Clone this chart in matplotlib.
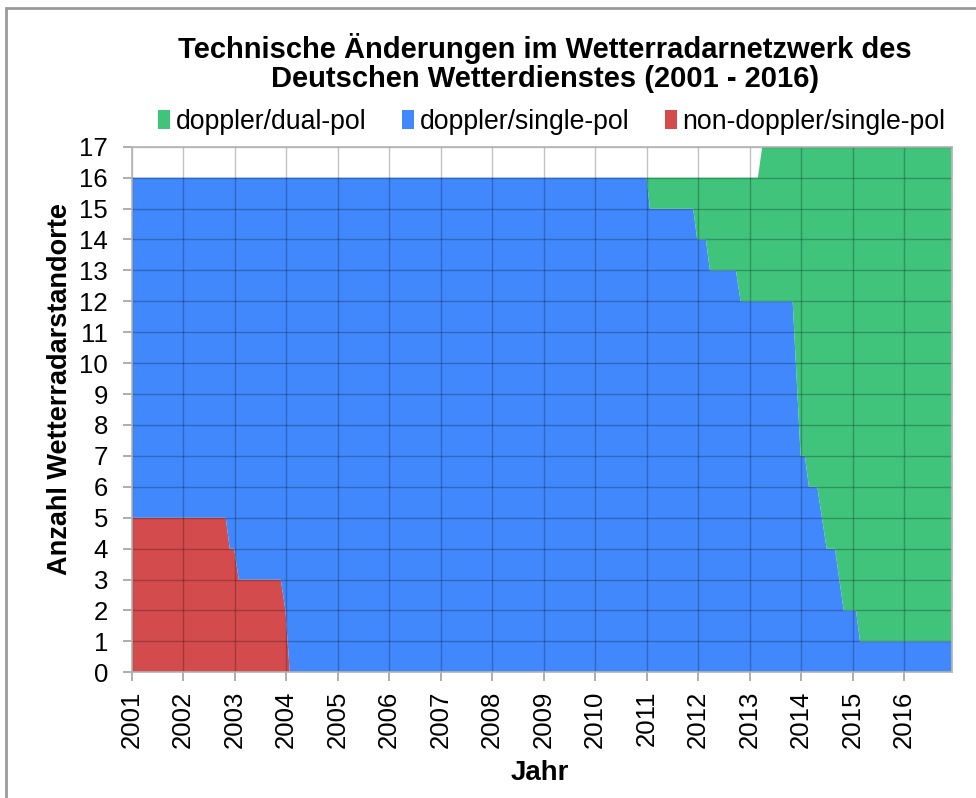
import matplotlib
matplotlib.use("Agg")
import matplotlib.pyplot as plt
from matplotlib.patches import Patch, Rectangle

plt.rcParams['font.family'] = ['Liberation Sans', 'DejaVu Sans']

# ---- data (decimal years, number of radar sites) ----
years = [2001.0, 2002.826, 2002.904, 2002.988, 2003.079, 2003.895, 2003.986, 2004.070,
         2011.000, 2011.064, 2011.905, 2011.983, 2012.152, 2012.230, 2012.735, 2012.826,
         2013.162, 2013.246, 2013.837, 2013.992, 2014.075, 2014.153, 2014.315, 2014.497,
         2014.659, 2014.828, 2015.067, 2015.145, 2016.926]
non_doppler_single = [5, 5, 4, 4, 3, 3, 2, 0,
                      0, 0, 0, 0, 0, 0, 0, 0,
                      0, 0, 0, 0, 0, 0, 0, 0,
                      0, 0, 0, 0, 0]
doppler_single = [11, 11, 12, 12, 13, 13, 14, 16,
                  16, 15, 15, 14, 14, 13, 13, 12,
                  12, 12, 12, 7, 7, 6, 6, 4,
                  4, 2, 2, 1, 1]
doppler_dual = [0, 0, 0, 0, 0, 0, 0, 0,
                0, 1, 1, 2, 2, 3, 3, 4,
                4, 5, 5, 10, 10, 11, 11, 13,
                13, 15, 15, 16, 16]
series_labels = ['doppler/dual-pol', 'doppler/single-pol', 'non-doppler/single-pol']
year_ticks = list(range(2001, 2017))
y_ticks = list(range(0, 18))

title = 'Technische Änderungen im Wetterradarnetzwerk des\nDeutschen Wetterdienstes (2001 - 2016)'
xlabel = 'Jahr'
ylabel = 'Anzahl Wetterradarstandorte'

c_green = '#40c47b'
c_blue = '#4088fb'
c_red = '#d44b4d'

W, H = 976, 798
fig = plt.figure(figsize=(W / 100, H / 100), dpi=100)
L, R, T, B = 131.7, 951.7, 146.7, 672.3
ax = fig.add_axes([L / W, 1 - B / H, (R - L) / W, (B - T) / H])

ax.stackplot(years, non_doppler_single, doppler_single, doppler_dual,
             colors=[c_red, c_blue, c_green], linewidth=0)

ax.set_xlim(2001, 2016.926)
ax.set_ylim(0, 17)
ax.set_xticks(year_ticks)
ax.set_xticklabels([str(y) for y in year_ticks], rotation=90)
ax.set_yticks(y_ticks)
ax.grid(True, color='black', alpha=0.24, linewidth=1.0)
ax.set_axisbelow('line')

for s in ax.spines.values():
    s.set_color('#b3b3b3')
    s.set_linewidth(1.2)
ax.tick_params(axis='both', colors='#a0a0a0', length=6.5, width=1.2, labelcolor='black',
               labelsize=18.5)
ax.tick_params(axis='y', pad=10.5)
ax.tick_params(axis='x', pad=6.5)

fig.text(545 / W, 1 - 63 / H, title, ha='center', va='center', fontsize=21,
         fontweight='bold', linespacing=1.05)

handles = [Patch(facecolor=c_green), Patch(facecolor=c_blue), Patch(facecolor=c_red)]
fig.legend(handles, series_labels, loc='center', bbox_to_anchor=(552 / W, 1 - 122 / H),
           ncol=3, frameon=False, fontsize=19.2, handlelength=0.45, handleheight=0.7,
           handletextpad=0.2, columnspacing=1.35, borderpad=0, borderaxespad=0)

fig.text(60 / W, 1 - 389 / H, ylabel, rotation=90, ha='center', va='center',
         fontsize=19.5, fontweight='bold')
fig.text(540 / W, 1 - 773 / H, xlabel, ha='center', va='center',
         fontsize=20, fontweight='bold')

fig.add_artist(Rectangle((6 / W, -0.1), 1.2, 1.1 - 8 / H, transform=fig.transFigure,
                         facecolor='none', edgecolor='#9a9a9a', linewidth=2))

fig.savefig('out.png', dpi=100)
